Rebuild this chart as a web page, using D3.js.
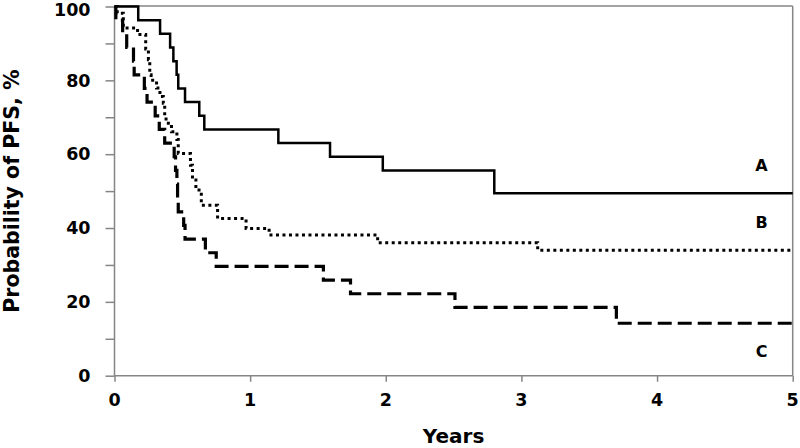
<!DOCTYPE html>
<html><head><meta charset="utf-8">
<script src="https://cdn.jsdelivr.net/npm/d3@7"></script>
<style>body{margin:0;background:#fff}svg{display:block}text{font-family:"DejaVu Sans",Verdana,sans-serif;font-weight:bold;fill:#000}</style>
</head><body><svg id="c" width="800" height="448"></svg>
<script>
const xTicks = [0,1,2,3,4,5];
const yTicks = [0,20,40,60,80,100];
const curveA = [[0,100],[0.175,96.3],[0.336,92.6],[0.41,88.9],[0.434,85.2],[0.458,81.5],[0.47,77.8],[0.52,74.1],[0.625,70.4],[0.662,66.7],[1.208,63.0],[1.589,59.3],[1.978,55.6],[2.8,49.4],[5,49.4]];
const curveB = [[0,100],[0.02,98.2],[0.065,94.2],[0.17,92.4],[0.23,88.5],[0.25,85.6],[0.26,81.5],[0.27,80.0],[0.31,77.9],[0.335,75.6],[0.36,73.8],[0.37,70.1],[0.38,68.4],[0.42,66.1],[0.46,64.0],[0.47,60.2],[0.56,57.0],[0.575,53.0],[0.6,50.3],[0.64,46.2],[0.76,42.6],[0.97,39.9],[1.14,38.1],[1.94,36.0],[3.12,34.0],[5,34.0]];
const curveC = [[0,100],[0.01,96.3],[0.06,92.6],[0.09,88.9],[0.14,85.2],[0.145,81.5],[0.22,77.8],[0.24,74.1],[0.3,70.4],[0.33,66.7],[0.37,63.0],[0.44,59.3],[0.45,55.6],[0.46,51.9],[0.465,48.1],[0.47,44.4],[0.51,40.7],[0.52,37.0],[0.67,33.3],[0.75,29.6],[1.54,25.9],[1.74,22.2],[2.51,18.5],[3.70,14.2],[5,14.2]];
const groupLabels = ["A","B","C"];

const svg = d3.select("#c");
const m = {l:114.5, r:792.7, t:6.5, b:375.7};
const x = d3.scaleLinear().domain([0,5]).range([m.l,m.r]);
const y = d3.scaleLinear().domain([0,100]).range([m.b,m.t]);
const gray = "#858585";

// frame top/right
svg.append("line").attr("x1",m.l).attr("x2",m.r).attr("y1",m.t-0.5).attr("y2",m.t-0.5).attr("stroke",gray).attr("stroke-width",1.5);
svg.append("line").attr("x1",m.r).attr("x2",m.r).attr("y1",m.t-0.5).attr("y2",m.b).attr("stroke",gray).attr("stroke-width",1.5);

// y axis
const ya = svg.append("g").attr("transform",`translate(${m.l},0)`)
  .call(d3.axisLeft(y).tickValues(d3.range(0,101,10)).tickSize(9).tickFormat(""));
ya.selectAll("path,line").attr("stroke",gray).attr("stroke-width",1.5);
ya.select(".domain").attr("d",`M0,${m.t}V${m.b}`);
svg.append("g").selectAll("text").data(yTicks).join("text")
  .attr("x",m.l-24).attr("y",d=>Math.max(y(d),10)).attr("dy","0.36em").attr("text-anchor","end")
  .style("font-size","17.5px").text(d=>d);

// x axis
const xa = svg.append("g").attr("transform",`translate(0,${m.b})`)
  .call(d3.axisBottom(x).tickValues(xTicks).tickSize(6).tickFormat(""));
xa.selectAll("path,line").attr("stroke",gray).attr("stroke-width",1.5);
xa.select(".domain").attr("d",`M${m.l},0H${m.r}`);
svg.append("g").selectAll("text").data(xTicks).join("text")
  .attr("x",d=>x(d)).attr("y",m.b+24).attr("dy","0.36em").attr("text-anchor","middle")
  .style("font-size","17.5px").text(d=>d);

// titles
svg.append("text").attr("x",(m.l+m.r)/2).attr("y",m.b+67).attr("text-anchor","middle")
  .style("font-size","20px").text("Years");
svg.append("text").attr("transform",`translate(19,${(m.t+m.b)/2}) rotate(-90)`).attr("text-anchor","middle")
  .style("font-size","20.5px").text("Probability of PFS, %");

const line = d3.line().x(d=>x(d[0])).y(d=>y(d[1])).curve(d3.curveStepAfter);
const styles = [
  {data:curveA, w:2.5, dash:null},
  {data:curveB, w:3, dash:"3,3.5"},
  {data:curveC, w:3.2, dash:"14,6"}
];
styles.forEach(s=>{
  svg.append("path").datum(s.data).attr("d",line).attr("fill","none")
    .attr("stroke","#000").attr("stroke-width",s.w)
    .attr("stroke-dasharray",s.dash).attr("stroke-linejoin","miter");
});

// group labels
const labelPos = [[4.77,49.4,1],[4.77,34.0,1],[4.77,14.2,-1]];
svg.append("g").selectAll("text").data(groupLabels).join("text")
  .attr("x",(d,i)=>x(labelPos[i][0]))
  .attr("y",(d,i)=>y(labelPos[i][1] + labelPos[i][2]*7.5))
  .attr("dy","0.36em").attr("text-anchor","middle").style("font-size","16px").text(d=>d);
</script></body></html>
